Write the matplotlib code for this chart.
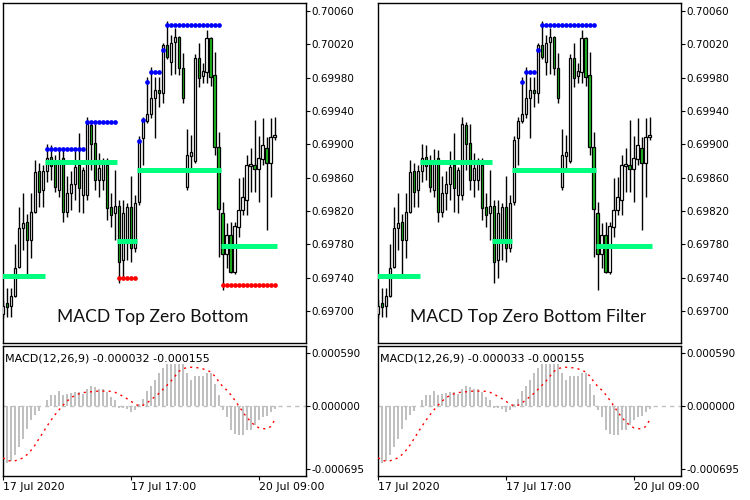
import matplotlib
matplotlib.use("Agg")
import matplotlib.pyplot as plt

# candles (AUDUSD-like M30), index 0..68
opens = [0.696964, 0.697096, 0.697060, 0.697180, 0.697528, 0.697996, 0.698068, 0.697852, 0.698188, 0.698680,
         0.698452, 0.698680, 0.698848, 0.698788, 0.698452, 0.698836, 0.698188, 0.698416, 0.698524, 0.698752,
         0.698392, 0.698392, 0.699232, 0.699016, 0.698572, 0.698572, 0.698752, 0.698248, 0.698176, 0.698260,
         0.697612, 0.697828, 0.698248, 0.697756, 0.698308, 0.699076, 0.699280, 0.699364, 0.699556, 0.699652,
         0.699616, 0.700192, 0.699988, 0.700228, 0.700288, 0.699916, 0.698488, 0.698860, 0.698800, 0.700036,
         0.699820, 0.699868, 0.700276, 0.699832, 0.698968, 0.698176, 0.697684, 0.697912, 0.697468, 0.698008,
         0.698212, 0.698332, 0.698740, 0.698752, 0.698704, 0.698824, 0.698956, 0.698776, 0.699088]
highs = [0.697132, 0.697276, 0.697276, 0.697804, 0.698248, 0.698416, 0.698164, 0.698416, 0.698812, 0.698776,
         0.698752, 0.699004, 0.698992, 0.698872, 0.698944, 0.698932, 0.698620, 0.698680, 0.698920, 0.699136,
         0.698728, 0.699328, 0.699268, 0.699244, 0.698896, 0.698836, 0.698836, 0.698416, 0.698692, 0.698332,
         0.698332, 0.698296, 0.698620, 0.698392, 0.699100, 0.699328, 0.699808, 0.699928, 0.699808, 0.699808,
         0.700216, 0.700480, 0.700312, 0.700396, 0.700300, 0.700096, 0.699184, 0.699112, 0.700084, 0.700216,
         0.699976, 0.700372, 0.700288, 0.700108, 0.699148, 0.698308, 0.698056, 0.698068, 0.698068, 0.698596,
         0.698608, 0.698872, 0.698956, 0.699292, 0.699100, 0.699316, 0.699088, 0.699316, 0.699328]
lows = [0.696916, 0.696928, 0.696928, 0.697168, 0.697516, 0.697732, 0.697432, 0.697636, 0.698176, 0.698248,
        0.698248, 0.698548, 0.698572, 0.698428, 0.698368, 0.698068, 0.698128, 0.698212, 0.698332, 0.698188,
        0.698176, 0.698332, 0.698692, 0.698452, 0.698368, 0.698452, 0.698092, 0.698008, 0.697852, 0.697336,
        0.697396, 0.697612, 0.697588, 0.697708, 0.698272, 0.698752, 0.699256, 0.699316, 0.699076, 0.699448,
        0.699496, 0.700024, 0.699832, 0.699844, 0.699832, 0.699496, 0.698452, 0.698716, 0.698776, 0.699688,
        0.699736, 0.699736, 0.699700, 0.698872, 0.697648, 0.697252, 0.697516, 0.697456, 0.697444, 0.697888,
        0.698152, 0.698152, 0.698428, 0.698428, 0.698308, 0.698752, 0.697972, 0.698368, 0.699052]
closes = [0.697060, 0.697048, 0.697180, 0.697516, 0.697996, 0.698056, 0.697852, 0.698188, 0.698668, 0.698428,
          0.698680, 0.698836, 0.698740, 0.698488, 0.698776, 0.698188, 0.698416, 0.698524, 0.698728, 0.698476,
          0.698692, 0.699244, 0.699004, 0.698572, 0.698716, 0.698776, 0.698236, 0.698152, 0.698260, 0.697588,
          0.698176, 0.698248, 0.697756, 0.698296, 0.699052, 0.699280, 0.699364, 0.699556, 0.699652, 0.699616,
          0.700192, 0.700048, 0.700216, 0.700288, 0.699916, 0.699556, 0.698872, 0.698908, 0.700036, 0.699796,
          0.699880, 0.700276, 0.699808, 0.698968, 0.698224, 0.697684, 0.697912, 0.697468, 0.698020, 0.698212,
          0.698368, 0.698752, 0.698764, 0.698704, 0.698836, 0.698992, 0.698776, 0.699088, 0.699112]

# MACD histogram and signal line
macd_hist = [-0.000640, -0.000629, -0.000607, -0.000544, -0.000451, -0.000366, -0.000248, -0.000150, -0.000100, -0.000055,
             0.000000, 0.000067, 0.000122, 0.000130, 0.000167, 0.000122, 0.000141, 0.000148, 0.000159, 0.000159,
             0.000141, 0.000196, 0.000222, 0.000215, 0.000196, 0.000196, 0.000159, 0.000104, 0.000067, -0.000018,
             -0.000018, -0.000026, -0.000063, -0.000037, 0.000030, 0.000085, 0.000170, 0.000226, 0.000289, 0.000363,
             0.000429, 0.000466, 0.000466, 0.000466, 0.000466, 0.000466, 0.000363, 0.000296, 0.000333, 0.000333,
             0.000333, 0.000370, 0.000363, 0.000252, 0.000122, -0.000044, -0.000118, -0.000266, -0.000311, -0.000322,
             -0.000322, -0.000266, -0.000266, -0.000211, -0.000155, -0.000118, -0.000111, -0.000063, -0.000032]
macd_signal = [-0.000570, -0.000600, -0.000607, -0.000603, -0.000592, -0.000570, -0.000535, -0.000488, -0.000430, -0.000359,
               -0.000290, -0.000220, -0.000155, -0.000095, -0.000040, 0.000010, 0.000055, 0.000095, 0.000120, 0.000138,
               0.000150, 0.000157, 0.000160, 0.000165, 0.000168, 0.000168, 0.000167, 0.000165, 0.000155, 0.000135,
               0.000110, 0.000085, 0.000056, 0.000025, 0.000005, 0.000010, 0.000035, 0.000070, 0.000105, 0.000141,
               0.000185, 0.000230, 0.000275, 0.000330, 0.000385, 0.000415, 0.000428, 0.000432, 0.000430, 0.000425,
               0.000415, 0.000400, 0.000380, 0.000335, 0.000275, 0.000220, 0.000180, 0.000130, 0.000070, 0.000005,
               -0.000060, -0.000120, -0.000170, -0.000210, -0.000237, -0.000248, -0.000250, -0.000225, -0.000155]

# indicator levels: groups of bars (first index, last index, price)
top_start = [11, 21, 34, 35, 36, 37, 40, 41]
top_end = [20, 28, 34, 35, 36, 39, 40, 54]
top_level = [0.698944, 0.699268, 0.699040, 0.699292, 0.699748, 0.699868, 0.700132, 0.700432]

top_start_f = [36, 37, 40, 41]
top_end_f = [36, 39, 40, 54]
top_level_f = [0.699748, 0.699868, 0.700132, 0.700432]

bot_start = [29, 55]
bot_end = [33, 68]
bot_level = [0.697396, 0.697308]

zero_start = [0, 11, 29, 34, 55]
zero_end = [10, 28, 33, 54, 68]
zero_level = [0.697420, 0.698788, 0.697840, 0.698692, 0.697780]

price_ticks = [0.70060, 0.70020, 0.69980, 0.69940, 0.69900, 0.69860, 0.69820, 0.69780, 0.69740, 0.69700]
macd_ticks = [0.000590, 0.0, -0.000695]
date_pos = [0, 32, 64]
date_labels = ["17 Jul 2020", "17 Jul 17:00", "20 Jul 09:00"]

W, H = 750, 500


def nacrtaj(x0, naslov, t_start, t_end, t_level, b_start, b_end, b_level, macd_text):
    ax = fig.add_axes([x0 / W, 1 - 343.3 / H, 303 / W, 340.6 / H])
    n = len(opens)
    xs = list(range(n))
    # wicks
    ax.vlines(xs, lows, highs, color="black", linewidth=1.0, zorder=2)
    for i in xs:
        o, c = opens[i], closes[i]
        boja = "white" if c >= o else "#1FBF1F"
        ax.bar(i, abs(c - o) if abs(c - o) > 0 else 0.000008, bottom=min(o, c), width=0.6,
               color=boja, edgecolor="black", linewidth=0.9, zorder=3)
    # zero lines
    for s, e, v in zip(zero_start, zero_end, zero_level):
        ax.hlines(v, s - 0.5, e + 0.5, color="#00FF7F", linewidth=3.6, zorder=4)
    # top dots
    for s, e, v in zip(t_start, t_end, t_level):
        idx = list(range(s, e + 1))
        ax.plot(idx, [v] * len(idx), "o", color="#0000FF", markersize=3.4, markeredgewidth=0, zorder=5)
    # bottom dots
    for s, e, v in zip(b_start, b_end, b_level):
        idx = list(range(s, e + 1))
        ax.plot(idx, [v] * len(idx), "o", color="#FF0000", markersize=3.4, markeredgewidth=0, zorder=5)

    ax.set_xlim(-0.1, 75.8)
    ax.set_ylim(0.6966124, 0.7006996)
    ax.yaxis.tick_right()
    ax.set_yticks(price_ticks)
    ax.set_yticklabels(["%.5f" % p for p in price_ticks])
    ax.tick_params(axis="y", direction="out", length=3, width=0.8, labelsize=7.5, pad=1)
    ax.set_xticks([])
    for s in ax.spines.values():
        s.set_linewidth(1.0)
    ax.text(0.496, 0.077, naslov, transform=ax.transAxes, ha="center", va="center",
            fontsize=12.6, family="Lato", color="#111111")

    # MACD
    am = fig.add_axes([x0 / W, 1 - 476 / H, 303 / W, 130 / H])
    am.axhline(0, color="#C0C0C0", linewidth=1, linestyle=(0, (3, 3)), zorder=1)
    am.bar(xs, macd_hist, width=0.5, color="#C0C0C0", zorder=2)
    am.plot(xs, macd_signal, color="#FF0000", linewidth=1.0, linestyle=(0, (1.5, 3)), zorder=3)
    am.set_xlim(-0.1, 75.8)
    am.set_ylim(-0.0007725, 0.0006675)
    am.yaxis.tick_right()
    am.set_yticks(macd_ticks)
    am.set_yticklabels(["%.6f" % m for m in macd_ticks])
    am.tick_params(axis="y", direction="out", length=3, width=0.8, labelsize=7.5, pad=1)
    am.set_xticks(date_pos)
    am.set_xticklabels(date_labels)
    am.tick_params(axis="x", direction="out", length=3, width=0.8, labelsize=7.8, pad=1)
    for lab in am.get_xticklabels():
        lab.set_horizontalalignment("left")
    for s in am.spines.values():
        s.set_linewidth(1.0)
    am.text(0.008, 0.905, macd_text, transform=am.transAxes, ha="left", va="center", fontsize=8)


fig = plt.figure(figsize=(W / 100, H / 100), dpi=100)
nacrtaj(2.7, "MACD Top Zero Bottom", top_start, top_end, top_level, bot_start, bot_end, bot_level,
        "MACD(12,26,9) -0.000032 -0.000155")
nacrtaj(377.7, "MACD Top Zero Bottom Filter", top_start_f, top_end_f, top_level_f, [], [], [],
        "MACD(12,26,9) -0.000033 -0.000155")
fig.savefig("out.png", dpi=100)
